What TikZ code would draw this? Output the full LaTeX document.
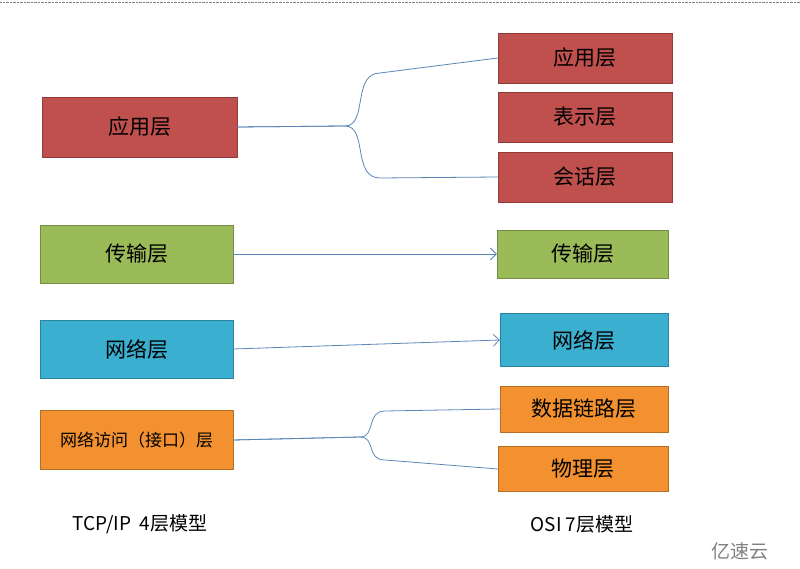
\documentclass[tikz,border=0pt]{standalone}
\usepackage{fontspec}
\setmainfont{Noto Sans CJK SC}
\usetikzlibrary{arrows.meta}
\definecolor{appred}{HTML}{C0504D}
\definecolor{tpgreen}{HTML}{9BBB59}
\definecolor{netblue}{HTML}{3AAFCF}
\definecolor{linkorange}{HTML}{F39130}
\definecolor{wire}{HTML}{5A86B8}
\tikzset{
  box/.style n args={3}{draw=#1!75!black, fill=#1, minimum width=#2, minimum height=#3, inner sep=0pt, font=\fontsize{21}{24}\selectfont},
  wire/.style={draw=wire, line width=0.8pt},
  caption/.style={font=\fontsize{19}{22}\selectfont}
}
\begin{document}
\begin{tikzpicture}[x=1pt,y=-1pt]
	\useasboundingbox (0,0) rectangle (800,569);
	\draw [densely dotted, gray] (0,2) -- (800,2);

	% TCP/IP side
	\node[box={appred}{195pt}{60pt}] (tapp) at (139.5,127) {应用层};
	\node[box={tpgreen}{193pt}{58pt}] (ttrans) at (136.5,254) {传输层};
	\node[box={netblue}{193pt}{58pt}] (tnet) at (136.5,349) {网络层};
	\node[box={linkorange}{193pt}{59pt}, font=\fontsize{17}{20}\selectfont] (tlink) at (136.5,440) {网络访问（接口）层};

	% OSI side
	\node[box={appred}{174pt}{50pt}] (oapp) at (585,58) {应用层};
	\node[box={appred}{174pt}{50pt}] (opres) at (585,117) {表示层};
	\node[box={appred}{174pt}{50pt}] (osess) at (585,177) {会话层};
	\node[box={tpgreen}{171pt}{48pt}] (otrans) at (582.5,254) {传输层};
	\node[box={netblue}{168pt}{53pt}] (onet) at (584,340) {网络层};
	\node[box={linkorange}{168pt}{46pt}] (odata) at (584,409) {数据链路层};
	\node[box={linkorange}{170pt}{45pt}] (ophys) at (583,469) {物理层};

	\node[caption] (tcap) at (140,524) {TCP/IP\ \ 4层模型};
	\node[caption] (ocap) at (582,524) {OSI 7层模型};
	\node[text=gray, font=\fontsize{19}{22}\selectfont] (mark) at (740,551) {亿速云};

	% connectors
	\draw [wire] (tapp.east) -- (345,126) .. controls (368,126) and (352,73) .. (380,73) -- (oapp.west);
	\draw [wire] (tapp.east) -- (345,126) .. controls (368,126) and (352,178) .. (380,178) -- (osess.west);
	\draw [wire, -{Straight Barb[length=6pt]}] (ttrans.east) -- (otrans.west);
	\draw [wire, -{Straight Barb[length=6pt]}] (tnet.east) -- (onet.west);
	\draw [wire] (tlink.east) -- (360,437) .. controls (376,437) and (366,411) .. (385,411) -- (odata.west);
	\draw [wire] (tlink.east) -- (360,437) .. controls (376,437) and (366,460) .. (385,460) -- (ophys.west);
\end{tikzpicture}
\end{document}
